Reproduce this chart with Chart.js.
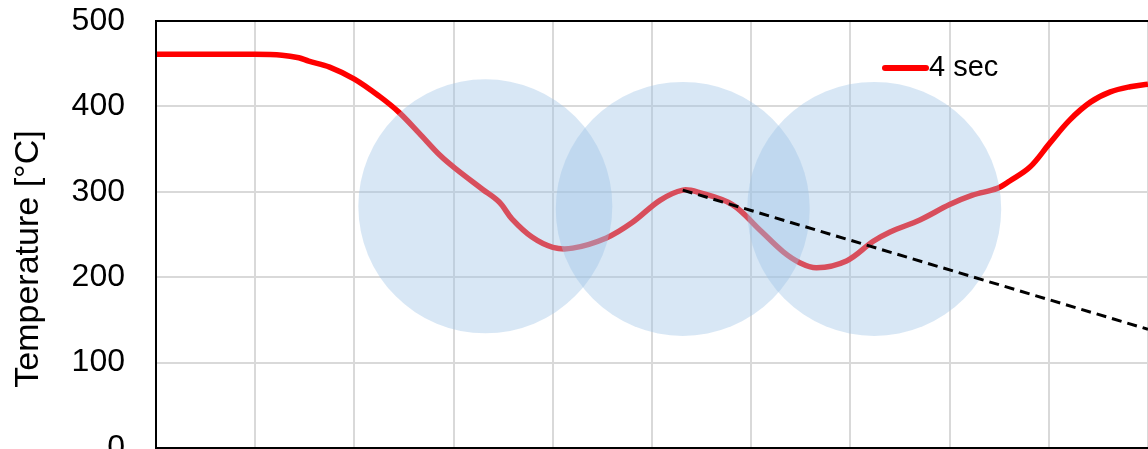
<!DOCTYPE html>
<html>
<head>
<meta charset="utf-8">
<script src="https://cdn.jsdelivr.net/npm/chart.js@4.4.1/dist/chart.umd.min.js"></script>
<style>
  html, body { margin: 0; padding: 0; background: #fff; overflow: hidden; }
  canvas { display: block; }
</style>
</head>
<body>
<canvas id="c" width="1148" height="472"></canvas>
<script>
// Measured temperature profile along the sample
const positions = [0, 0.43, 0.94, 1.27, 1.44, 1.54, 1.75, 2.0, 2.25, 2.45, 2.65, 2.86, 3.01, 3.29, 3.46, 3.59, 3.79, 4.0, 4.2, 4.54, 4.8, 5.08, 5.31, 5.48, 5.81, 6.09, 6.32, 6.49, 6.66, 6.96, 7.23, 7.4, 7.7, 8.0, 8.23, 8.48, 8.61, 8.81, 9.01, 9.21, 9.42, 9.62, 9.82, 10];
const temps = [461, 461, 461, 460, 457, 453, 446, 432, 412, 393, 369, 343, 328, 303, 288, 268, 247, 235, 234, 246, 264, 290, 302, 299, 285, 255, 230, 217, 211, 219, 242, 253, 267, 285, 296, 304, 313, 329, 357, 384, 405, 417, 423, 426];
const seriesLabel = '4 sec';

// Extrapolated cooling trend from the central peak
const trendX = [5.31, 10];
const trendY = [302, 139];

// Highlighted zones (centre position, centre temperature, radius in px)
const zoneX = [3.32, 5.31, 7.24];
const zoneY = [283, 280, 280];
const zoneR = [127, 127, 127];

// Axis setup
const yTicks = [0, 100, 200, 300, 400, 500];
const yTitle = 'Temperature [°C]';

const FONT = "'Liberation Sans', Arial, sans-serif";

const framePlugin = {
  id: 'frame',
  afterDraw(chart) {
    const {ctx, chartArea: a} = chart;
    ctx.save();
    ctx.strokeStyle = '#000';
    ctx.lineWidth = 2;
    ctx.beginPath();
    ctx.moveTo(a.right + 2, a.top);
    ctx.lineTo(a.left, a.top);
    ctx.lineTo(a.left, a.bottom);
    ctx.lineTo(a.right + 2, a.bottom);
    ctx.stroke();

    // y-axis title
    ctx.fillStyle = '#000';
    ctx.font = '34px ' + FONT;
    ctx.textAlign = 'center';
    ctx.textBaseline = 'middle';
    ctx.translate(29, 259);
    ctx.rotate(-Math.PI / 2);
    ctx.fillText(yTitle, 0, 0);
    ctx.restore();

    // legend entry
    ctx.save();
    ctx.strokeStyle = '#ff0000';
    ctx.lineWidth = 6;
    ctx.lineCap = 'round';
    ctx.beginPath();
    ctx.moveTo(885, 68);
    ctx.lineTo(926, 68);
    ctx.stroke();
    ctx.fillStyle = '#000';
    ctx.font = '29px ' + FONT;
    ctx.textAlign = 'left';
    ctx.textBaseline = 'middle';
    ctx.fillText(seriesLabel, 929, 68);
    ctx.restore();
  }
};

new Chart(document.getElementById('c'), {
  data: {
    datasets: [
      {
        type: 'line',
        label: seriesLabel,
        data: positions.map((x, i) => ({x, y: temps[i]})),
        borderColor: '#ff0000',
        borderWidth: 5.5,
        pointRadius: 0,
        tension: 0.35,
        order: 2
      },
      {
        type: 'bubble',
        label: 'zones',
        data: zoneX.map((x, i) => ({x, y: zoneY[i], r: zoneR[i]})),
        backgroundColor: 'rgba(157,195,230,0.4)',
        borderWidth: 0,
        hoverBorderWidth: 0,
        hoverRadius: 0,
        clip: false,
        order: 1
      },
      {
        type: 'line',
        label: 'trend',
        data: trendX.map((x, i) => ({x, y: trendY[i]})),
        borderColor: '#000',
        borderWidth: 3,
        borderDash: [10, 6],
        pointRadius: 0,
        order: 0
      }
    ]
  },
  options: {
    responsive: false,
    animation: false,
    events: [],
    layout: { autoPadding: false, padding: { left: 0, right: 0, top: 21, bottom: 24 } },
    plugins: { legend: { display: false }, tooltip: { enabled: false } },
    scales: {
      x: {
        type: 'linear',
        min: 0,
        max: 10,
        ticks: { display: false, stepSize: 1 },
        grid: { color: '#d9d9d9', lineWidth: 2, drawTicks: false },
        border: { display: false }
      },
      y: {
        type: 'linear',
        min: yTicks[0],
        max: yTicks[yTicks.length - 1],
        afterBuildTicks(scale) { scale.ticks = yTicks.map(v => ({value: v})); },
        afterFit(scale) {
          scale.width = 156;
          scale.paddingTop = 0;
          scale.paddingBottom = 0;
        },
        ticks: {
          color: '#000',
          font: { family: FONT, size: 32 },
          padding: 31
        },
        grid: { color: '#d9d9d9', lineWidth: 2, drawTicks: false },
        border: { display: false }
      }
    }
  },
  plugins: [framePlugin]
});
</script>
</body>
</html>
